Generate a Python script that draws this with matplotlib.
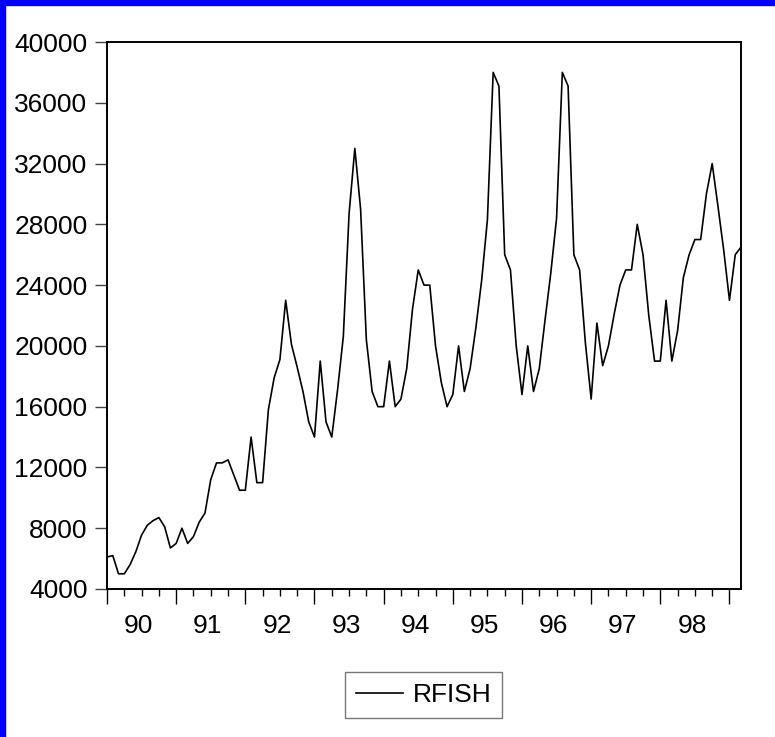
import matplotlib
matplotlib.use("Agg")
import matplotlib.pyplot as plt
from matplotlib.patches import Rectangle
import numpy as np

plt.rcParams['font.family'] = ['Liberation Sans', 'DejaVu Sans']

# monthly data, 1990M01 - 1999M03
rfish = [6100, 6200, 5000, 5000, 5600, 6450, 7550, 8200, 8500, 8700, 8100, 6700,
         7000, 8000, 7000, 7450, 8400, 9000, 11200, 12300, 12300, 12500, 11500, 10500,
         10500, 14000, 11000, 11000, 15800, 17900, 19100, 23000, 20100, 18600, 17000, 15000,
         14000, 19000, 15000, 14000, 17100, 20600, 28700, 33000, 29000, 20400, 17000, 16000,
         16000, 19000, 16000, 16500, 18500, 22400, 25000, 24000, 24000, 20000, 17600, 16000,
         16800, 20000, 17000, 18500, 21200, 24300, 28300, 38000, 37100, 26000, 25000, 20000,
         16800, 20000, 17000, 18500, 21700, 24800, 28400, 38000, 37100, 26000, 25000, 20200,
         16500, 21500, 18700, 20000, 22100, 24000, 25000, 25000, 28000, 26000, 22000, 19000,
         19000, 23000, 19000, 21000, 24500, 26000, 27000, 27000, 30000, 32000, 29200, 26300,
         23000, 26000, 26500]
years = ['90', '91', '92', '93', '94', '95', '96', '97', '98']
yticks = [4000, 8000, 12000, 16000, 20000, 24000, 28000, 32000, 36000, 40000]

t = np.arange(len(rfish))

fig = plt.figure(figsize=(7.75, 7.37), dpi=100)
ax = fig.add_axes([107/775, 1 - 589/737, 634/775, 547/737])

ax.plot(t, rfish, color='black', linewidth=1.2, label='RFISH')

ax.set_xlim(0, len(rfish) - 1)
ax.set_ylim(4000, 40000)
ax.set_yticks(yticks)
ax.set_yticklabels([str(v) for v in yticks])

ax.set_xticks(np.arange(0, len(rfish), 12))
ax.set_xticklabels([])
ax.set_xticks(np.arange(0, len(rfish), 3), minor=True)
for i, yr in enumerate(years):
    ax.text(12 * i + 5.5, -0.068, yr, transform=ax.get_xaxis_transform(),
            ha='center', va='center', fontsize=19)

ax.tick_params(axis='y', direction='out', length=9, width=1, labelsize=19, pad=5,
               color='#444444')
ax.tick_params(axis='x', which='major', direction='out', length=11, width=1)
ax.tick_params(axis='x', which='minor', direction='out', length=5, width=1)
ax.tick_params(top=False, right=False)

for s in ax.spines.values():
    s.set_linewidth(1.4)
    s.set_color('black')

leg = fig.legend(loc='center', bbox_to_anchor=(423.5/775, 1 - 695/737), fontsize=19,
                 frameon=True, fancybox=False, handlelength=1.8, handletextpad=0.35,
                 borderpad=0.4, borderaxespad=0)
leg.get_frame().set_edgecolor('#555555')
leg.get_frame().set_linewidth(1.0)

fig.patches.append(Rectangle((0, 0), 5/775, 1, transform=fig.transFigure,
                             color='#0000ff', zorder=10))
fig.patches.append(Rectangle((0, 1 - 5/737), 1, 5/737, transform=fig.transFigure,
                             color='#0000ff', zorder=10))

fig.savefig('out.png', dpi=100)
